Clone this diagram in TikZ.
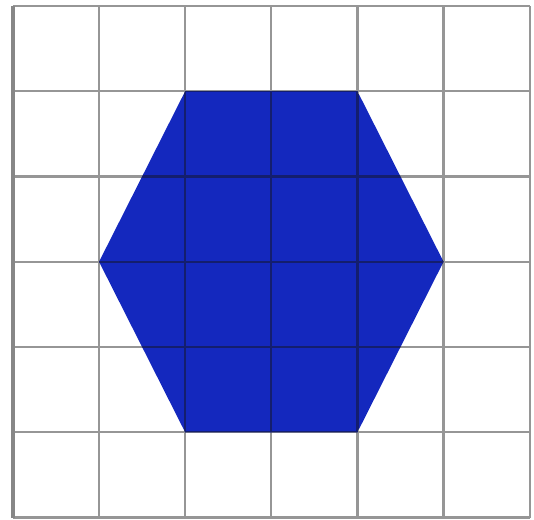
\documentclass[tikz,border=0pt]{standalone}
\usepackage{tikz}
\definecolor{hexblue}{RGB}{20,40,190}
\definecolor{gridgray}{RGB}{150,150,150}
\definecolor{griddark}{RGB}{20,30,110}
\begin{document}
\begin{tikzpicture}[
    y=0.99cm,
    gridline/.style={draw=gridgray, line width=0.75pt},
    innerline/.style={draw=griddark, line width=0.75pt},
    frameline/.style={draw=gridgray!90!black, line width=1.4pt},
    hexfill/.style={fill=hexblue, draw=none}
]
\useasboundingbox (-0.15,-0.02) rectangle (6.05,6.07);

% Hexagon corners
\coordinate (h1) at (2,5);
\coordinate (h2) at (4,5);
\coordinate (h3) at (5,3);
\coordinate (h4) at (4,1);
\coordinate (h5) at (2,1);
\coordinate (h6) at (1,3);
\fill[hexfill] (h1) -- (h2) -- (h3) -- (h4) -- (h5) -- (h6) -- cycle;

% Grid
\foreach \i in {1,...,6} {
    \draw[gridline] (\i,0) -- (\i,6);
    \draw[gridline] (0,\i-1) -- (6,\i-1);
}
\draw[gridline] (0,6) -- (6,6);
\draw[frameline] (0,0) -- (0,6);

% Grid seen through the hexagon
\begin{scope}
\clip (h1) -- (h2) -- (h3) -- (h4) -- (h5) -- (h6) -- cycle;
\foreach \i in {1,...,5} {
    \draw[innerline] (\i,0) -- (\i,6);
    \draw[innerline] (0,\i) -- (6,\i);
}
\end{scope}

\end{tikzpicture}
\end{document}
